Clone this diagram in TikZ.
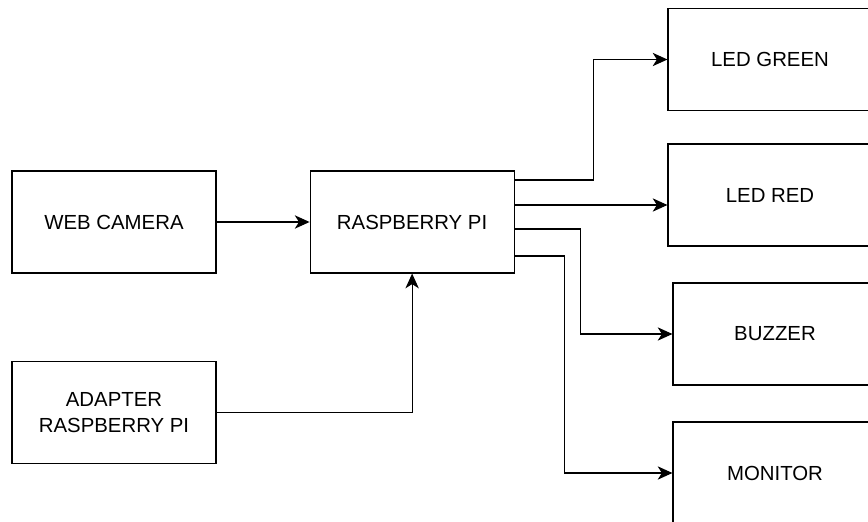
\documentclass[tikz,border=0pt]{standalone}
\usepackage{fontspec}
\setmainfont{Liberation Sans}
\usepackage{tikz}
\usetikzlibrary{arrows.meta,positioning,calc}

\begin{document}
\begin{tikzpicture}[>={Stealth[length=10.5pt,width=9.5pt,inset=3pt]},
  blk/.style={rectangle,draw,thick,minimum width=5.1cm,minimum height=2.55cm,
    align=center,font=\fontsize{14.5}{18.5}\selectfont},
  e/.style={->,thick}]

\useasboundingbox (0,0) rectangle (21.7,-13.05);
\clip (0,0) rectangle (21.7,-13.05);

\node[blk] (cam) at (2.85,-5.55) {WEB CAMERA};
\node[blk,right=2.325cm of cam] (rpi) {RASPBERRY PI};
\node[blk,below=2.175cm of cam] (adapter) {ADAPTER\\RASPBERRY PI};

\node[blk] (green) at (19.25,-1.4875) {LED GREEN};
\node[blk] (red) at (19.25,-4.875) {LED RED};
\node[blk] (buzzer) at (19.375,-8.35) {BUZZER};
\node[blk] (monitor) at (19.375,-11.825) {MONITOR};

\draw[e] (cam) -- (rpi);
\draw[e] (adapter.east) -| (rpi.south);

\draw[e] ([yshift=1.05cm]rpi.east) -- ++(1.975,0) |- (green.west);
\draw[e] ([yshift=0.425cm]rpi.east) coordinate (r2) -- (r2 -| red.west);
\draw[e] ([yshift=-0.175cm]rpi.east) -- ++(1.65,0) |- (buzzer.west);
\draw[e] ([yshift=-0.85cm]rpi.east) -- ++(1.25,0) |- (monitor.west);
\end{tikzpicture}
\end{document}
